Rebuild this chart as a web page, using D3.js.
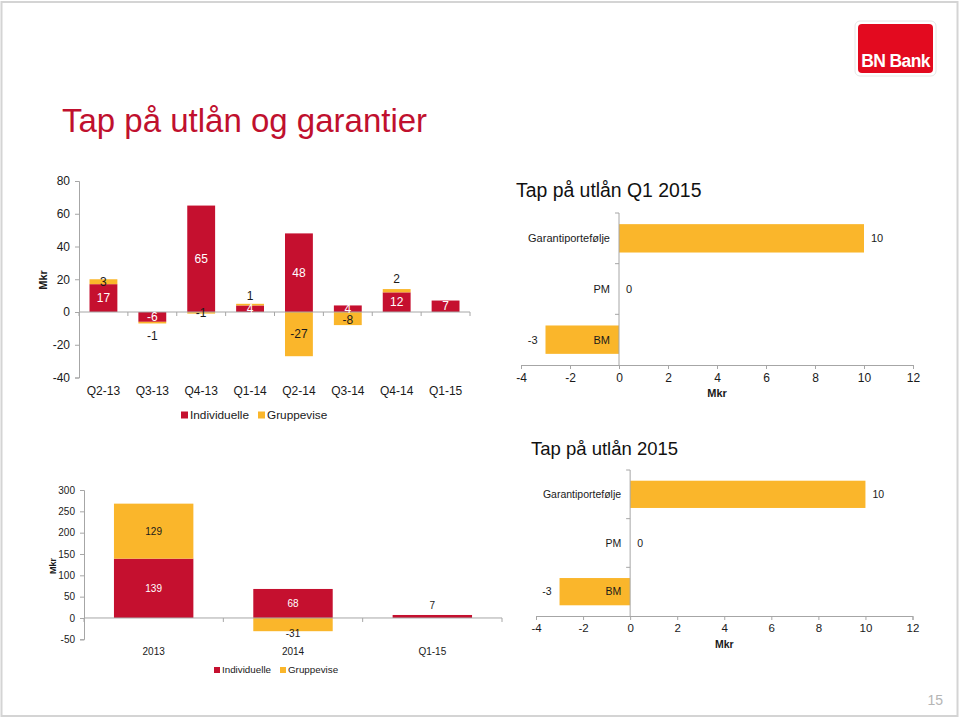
<!DOCTYPE html>
<html>
<head>
<meta charset="utf-8">
<script src="https://cdn.jsdelivr.net/npm/d3@7/dist/d3.min.js"></script>
<style>
  html, body { margin: 0; padding: 0; background: #fff; }
  svg { display: block; font-family: "Liberation Sans", Arial, sans-serif; }
</style>
</head>
<body>
<svg id="slide" width="960" height="719"></svg>
<script>
// ---------- DATA ----------
const quarters = ["Q2-13", "Q3-13", "Q4-13", "Q1-14", "Q2-14", "Q3-14", "Q4-14", "Q1-15"];
const quarterIndividuelle = [17, -6, 65, 4, 48, 4, 12, 7];
const quarterGruppevise = [3, -1, -1, 1, -27, -8, 2, 0];
const quarterTicks = [-40, -20, 0, 20, 40, 60, 80];

const years = ["2013", "2014", "Q1-15"];
const yearIndividuelle = [139, 68, 7];
const yearGruppevise = [129, -31, 0];
const yearTicks = [-50, 0, 50, 100, 150, 200, 250, 300];

const segments = ["Garantiportefølje", "PM", "BM"];
const segmentQ1 = [10, 0, -3];
const segment2015 = [10, 0, -3];
const segmentTicks = [-4, -2, 0, 2, 4, 6, 8, 10, 12];

const seriesNames = ["Individuelle", "Gruppevise"];

// label anchor values (in data units) where Excel labels were moved by hand
const gruppeviseLabelAt = { "Q3-13": -14.5, "Q1-14": 10, "Q3-14": -5, "Q4-14": 20 };
const yearGruppeviseLabelAt = { "2014": -37 };

// ---------- STYLE ----------
const RED = "#C5102F";
const YELLOW = "#FAB62B";
const AXIS = "#A6A6A6";
const TXT = "#1a1a1a";
const fmt = d => String(d);

const svg = d3.select("#slide");

// slide frame
svg.append("rect").attr("x", 1.5).attr("y", 2).attr("width", 956).attr("height", 714)
  .attr("fill", "none").attr("stroke", "#D4D4D4").attr("stroke-width", 2);

// title
svg.append("text").attr("x", 62).attr("y", 132).attr("font-size", 33)
  .attr("fill", "#C0102E").text("Tap på utlån og garantier");

// logo
const logo = svg.append("g");
logo.append("rect").attr("x", 855).attr("y", 21).attr("width", 81).attr("height", 55).attr("rx", 5)
  .attr("fill", "#fff").attr("stroke", "#E6E6E6");
logo.append("rect").attr("x", 858).attr("y", 24).attr("width", 75).attr("height", 49).attr("rx", 4)
  .attr("fill", "#E30A1F");
logo.append("text").attr("x", 895.5).attr("y", 67).attr("text-anchor", "middle")
  .attr("font-size", 17.5).attr("font-weight", "bold").attr("fill", "#fff")
  .attr("letter-spacing", -0.6).text("BN Bank");

// page number
svg.append("text").attr("x", 943).attr("y", 705).attr("text-anchor", "end")
  .attr("font-size", 14).attr("fill", "#B5B5B5").text("15");

// ---------- STACKED COLUMN CHART ----------
function stackedColumns(opt) {
  const g = svg.append("g");
  const data = opt.cats.map((c, i) => ({ cat: c, Individuelle: opt.ind[i], Gruppevise: opt.gr[i] }));
  const x = d3.scaleBand().domain(opt.cats).range([opt.x0, opt.x1]).paddingInner(0.43).paddingOuter(0.215);
  const y = d3.scaleLinear().domain(opt.yDomain).range([opt.yBottom, opt.yTop]);
  const stack = d3.stack().keys(seriesNames).offset(d3.stackOffsetDiverging)(data);
  const colors = { Individuelle: RED, Gruppevise: YELLOW };

  // y axis
  const yAxis = d3.axisLeft(y).tickValues(opt.ticks).tickFormat(fmt).tickSize(4).tickPadding(5);
  const ya = g.append("g").attr("transform", `translate(${opt.x0},0)`).call(yAxis);
  ya.select(".domain").attr("stroke", AXIS);
  ya.selectAll(".tick line").attr("stroke", AXIS);
  ya.selectAll(".tick text").attr("font-size", opt.fs).attr("fill", TXT).attr("font-family", "Liberation Sans, Arial");

  // bars
  stack.forEach(s => {
    g.append("g").selectAll("rect").data(s).join("rect")
      .attr("x", d => x(d.data.cat))
      .attr("width", x.bandwidth())
      .attr("y", d => y(Math.max(d[0], d[1])))
      .attr("height", d => Math.abs(y(d[0]) - y(d[1])))
      .attr("fill", colors[s.key]);
  });

  // x axis at zero
  const y0 = y(0);
  g.append("line").attr("x1", opt.x0).attr("x2", opt.x1).attr("y1", y0).attr("y2", y0).attr("stroke", AXIS);
  const bounds = opt.cats.map(c => x(c) - x.step() * x.paddingInner() / 2).concat([opt.x1]);
  g.selectAll(".xt").data(bounds).join("line")
    .attr("x1", d => d).attr("x2", d => d).attr("y1", y0).attr("y2", y0 + 4).attr("stroke", AXIS);

  // category labels at bottom
  g.selectAll(".cl").data(opt.cats).join("text")
    .attr("x", d => x(d) + x.bandwidth() / 2).attr("y", opt.catY)
    .attr("text-anchor", "middle").attr("dy", "0.35em")
    .attr("font-size", opt.fs).attr("fill", TXT).text(d => d);

  // data labels
  stack.forEach(s => {
    s.forEach(d => {
      const v = d.data[s.key];
      if (v === 0) return;
      const cat = d.data.cat;
      let color = s.key === "Individuelle" ? "#fff" : TXT;
      const hpx = Math.abs(y(d[0]) - y(d[1]));
      const override = s.key === "Gruppevise" ? opt.grLabelAt[cat] : undefined;
      let ly;
      if (override !== undefined) { ly = y(override); }
      else if (s.key === "Individuelle" && hpx < 6) { ly = y(Math.max(d[0], d[1])) - opt.fs * 0.9; color = TXT; }
      else ly = y((d[0] + d[1]) / 2);
      g.append("text").attr("x", x(cat) + x.bandwidth() / 2).attr("y", ly).attr("dy", "0.35em")
        .attr("text-anchor", "middle").attr("font-size", opt.fs).attr("fill", color).text(fmt(v));
    });
  });

  // y title
  g.append("text").attr("transform", `translate(${opt.mkrX},${opt.mkrY}) rotate(-90)`)
    .attr("text-anchor", "middle").attr("font-size", opt.fs - 1).attr("font-weight", "bold")
    .attr("fill", TXT).text("Mkr");

  // legend
  const lg = g.append("g");
  seriesNames.forEach((n, i) => {
    const lx = opt.legX[i];
    lg.append("rect").attr("x", lx).attr("y", opt.legY - opt.legSq / 2).attr("width", opt.legSq).attr("height", opt.legSq)
      .attr("fill", colors[n]);
    lg.append("text").attr("x", lx + opt.legSq + 2).attr("y", opt.legY).attr("dy", "0.35em")
      .attr("font-size", opt.legFs).attr("fill", TXT).text(n);
  });
}

stackedColumns({
  cats: quarters, ind: quarterIndividuelle, gr: quarterGruppevise, ticks: quarterTicks,
  x0: 79, x1: 470, yDomain: [-40, 80], yBottom: 377.5, yTop: 181,
  fs: 12, catY: 391, mkrX: 47, mkrY: 280,
  legX: [181, 258], legY: 415, legSq: 7, legFs: 11.8,
  grLabelAt: gruppeviseLabelAt
});

stackedColumns({
  cats: years, ind: yearIndividuelle, gr: yearGruppevise, ticks: yearTicks,
  x0: 84, x1: 502, yDomain: [-50, 300], yBottom: 639.3, yTop: 490,
  fs: 10, catY: 651, mkrX: 56, mkrY: 566,
  legX: [214, 280], legY: 670, legSq: 6, legFs: 9.8,
  grLabelAt: yearGruppeviseLabelAt
});

// ---------- HORIZONTAL BAR CHART ----------
function hbars(opt) {
  const g = svg.append("g");
  const x = d3.scaleLinear().domain([-4, 12]).range([opt.x0, opt.x1]);
  const y = d3.scaleBand().domain(segments).range([opt.yTop, opt.yBottom]).paddingInner(0.44).paddingOuter(0.22);

  g.append("text").attr("x", opt.titleX).attr("y", opt.titleY).attr("font-size", opt.titleFs)
    .attr("fill", "#111").text(opt.title);

  // bars
  g.selectAll("rect").data(opt.values).join("rect")
    .attr("x", d => x(Math.min(0, d)))
    .attr("width", d => Math.abs(x(d) - x(0)))
    .attr("y", (d, i) => y(segments[i]))
    .attr("height", y.bandwidth())
    .attr("fill", YELLOW);

  // x axis
  const xa = g.append("g").attr("transform", `translate(0,${opt.yBottom})`)
    .call(d3.axisBottom(x).tickValues(segmentTicks).tickFormat(fmt).tickSize(4).tickPadding(4));
  xa.select(".domain").attr("stroke", AXIS);
  xa.selectAll(".tick line").attr("stroke", AXIS);
  xa.selectAll(".tick text").attr("font-size", opt.fs).attr("fill", TXT).attr("font-family", "Liberation Sans, Arial");

  // y axis at zero
  const x0 = x(0);
  g.append("line").attr("x1", x0).attr("x2", x0).attr("y1", opt.yTop).attr("y2", opt.yBottom).attr("stroke", AXIS);
  const bounds = segments.map(s => y(s) - y.step() * y.paddingInner() / 2);
  g.selectAll(".yt").data(bounds).join("line")
    .attr("x1", x0 - 4).attr("x2", x0).attr("y1", d => d).attr("y2", d => d).attr("stroke", AXIS);

  // category labels
  g.selectAll(".cl").data(segments).join("text")
    .attr("x", x0 - 9).attr("y", d => y(d) + y.bandwidth() / 2).attr("dy", "0.35em")
    .attr("text-anchor", "end").attr("font-size", opt.catFs).attr("fill", TXT).text(d => d);

  // value labels
  g.selectAll(".vl").data(opt.values).join("text")
    .attr("x", d => d < 0 ? x(d) - 8 : x(d) + 7)
    .attr("y", (d, i) => y(segments[i]) + y.bandwidth() / 2).attr("dy", "0.35em")
    .attr("text-anchor", d => d < 0 ? "end" : "start")
    .attr("font-size", opt.catFs).attr("fill", TXT).text(fmt);

  g.append("text").attr("x", x(4)).attr("y", opt.yBottom + opt.mkrDy).attr("text-anchor", "middle")
    .attr("font-size", opt.fs - 1).attr("font-weight", "bold").attr("fill", TXT).text("Mkr");
}

hbars({
  values: segmentQ1, x0: 521, x1: 913, yTop: 213, yBottom: 365,
  fs: 12, catFs: 11, mkrDy: 32,
  title: "Tap på utlån Q1 2015", titleX: 516, titleY: 197, titleFs: 19.4
});

hbars({
  values: segment2015, x0: 536, x1: 912.5, yTop: 470, yBottom: 616,
  fs: 11.5, catFs: 10.5, mkrDy: 32,
  title: "Tap på utlån 2015", titleX: 531, titleY: 455, titleFs: 18.5
});
</script>
</body>
</html>
